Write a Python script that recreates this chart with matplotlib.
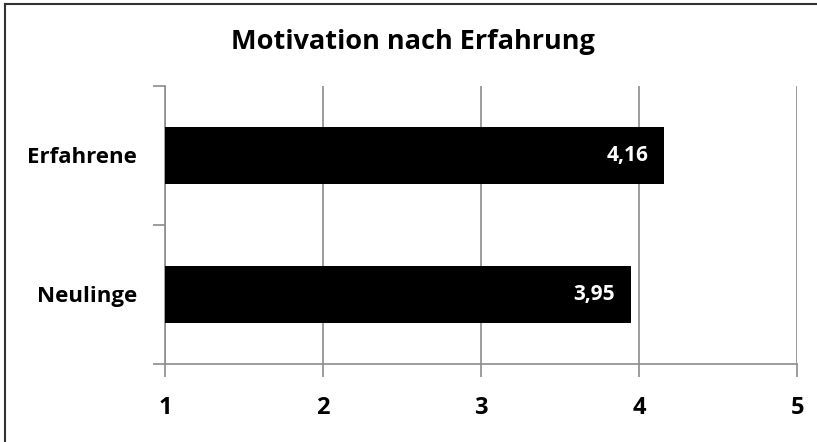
import matplotlib.pyplot as plt
from matplotlib.lines import Line2D

# Mittelwerte der Motivation je Gruppe
gruppen = ["Neulinge", "Erfahrene"]
motivation = [3.95, 4.16]
x_ticks = [1, 2, 3, 4, 5]

plt.rcParams["font.family"] = ["Open Sans", "DejaVu Sans"]
plt.rcParams["font.weight"] = "bold"

fig = plt.figure(figsize=(8.17, 4.42), dpi=100)
ax = fig.add_axes([0.202, 0.1765, 0.7736, 0.629])

pos = list(range(len(gruppen)))
start = 1
ax.barh(pos, [m - start for m in motivation], left=start, height=0.41,
        color="black", zorder=3)

for p, m in zip(pos, motivation):
    ax.text(m - 0.1, p, f"{m:.2f}".replace(".", ","), color="white",
            fontsize=15, fontweight="bold", ha="right", va="center", zorder=4)

ax.set_xlim(1, 5)
ax.set_ylim(-0.5, 1.5)
ax.set_xticks(x_ticks)
ax.set_xticklabels([str(t) for t in x_ticks], fontsize=17, fontweight="bold")
ax.set_yticks(pos)
ax.set_yticklabels(gruppen, fontsize=16, fontweight="bold")
ax.set_yticks([-0.5, 0.5, 1.5], minor=True)

ax.tick_params(axis="y", which="major", length=0, pad=20)
ax.tick_params(axis="y", which="minor", length=9, color="#8c8c8c", width=1.2)
ax.tick_params(axis="x", length=9, color="#8c8c8c", width=1.2, pad=14)

ax.grid(axis="x", color="#8c8c8c", linewidth=1.2, zorder=0)
for side in ["top", "right"]:
    ax.spines[side].set_visible(False)
for side in ["left", "bottom"]:
    ax.spines[side].set_color("#8c8c8c")
    ax.spines[side].set_linewidth(1.2)

fig.text(0.5055, 0.905, "Motivation nach Erfahrung", ha="center", va="center",
         fontsize=19.5, fontweight="bold")

# Rahmen oben und links
fig.add_artist(Line2D([0.006, 1], [0.991, 0.991], color="#333333", linewidth=1.5))
fig.add_artist(Line2D([0.006, 0.006], [0, 0.991], color="#333333", linewidth=1.5))

fig.savefig("out.png", dpi=100)
